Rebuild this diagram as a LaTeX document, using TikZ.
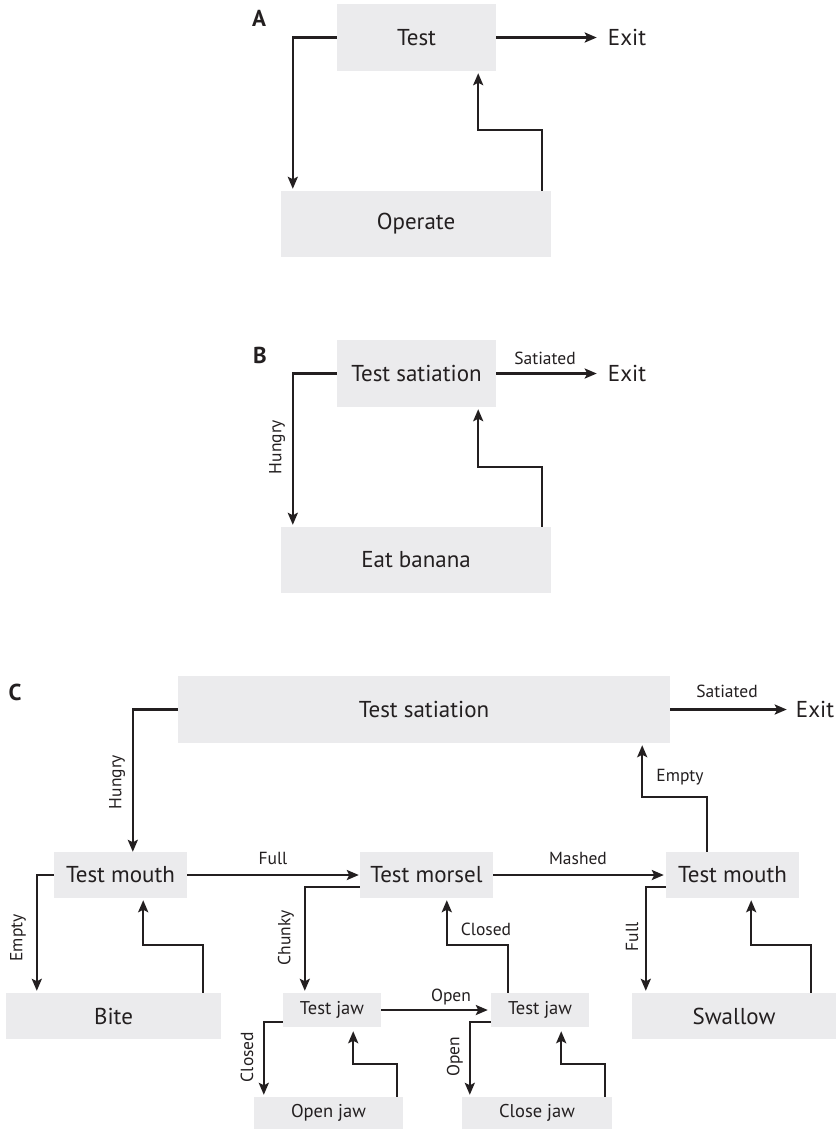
\documentclass[tikz,border=0pt]{standalone}
\usepackage{fontspec}
\setmainfont{PT Sans}
\usetikzlibrary{arrows.meta}
\definecolor{boxgray}{RGB}{235,235,237}
\definecolor{ink}{RGB}{35,31,32}
\begin{document}
\begin{tikzpicture}[x=1pt,y=-1pt,
  box/.style={fill=boxgray, inner sep=0pt, text=ink, font=\fontsize{23}{25}\selectfont},
  jawbox/.style={box, font=\fontsize{18.5}{20}\selectfont},
  lbl/.style={inner sep=0pt, text=ink, font=\fontsize{17.5}{19}\selectfont},
  plain/.style={inner sep=0pt, text=ink, font=\fontsize{23}{25}\selectfont},
  panel/.style={inner sep=0pt, text=ink, font=\fontsize{23}{25}\selectfont\bfseries},
  arr/.style={draw=ink, line width=2.4pt, -{Stealth[length=12pt,width=10pt,inset=2.5pt]}, shorten >=2pt},
  ]
\useasboundingbox[fill=white] (0,0) rectangle (840,1130);

% ---------- Panel A ----------
\node[panel] (pA) at (259,18) {A};
\node[box, minimum width=159pt, minimum height=67pt] (testA) at (416.5,37.5) {Test};
\node[box, minimum width=270pt, minimum height=66pt] (opA) at (416,224) {Operate};
\node[plain] (exitA) at (627,37.5) {Exit};
\draw[arr, shorten >=11pt] (testA.east) -- (testA.east -| exitA.west);
\draw[arr] (testA.west) -| ([xshift=12pt]opA.north west);
\draw[arr] ([xshift=-9pt]opA.north east) -- ++(0,-61) -| ([xshift=-18pt]testA.south east);

% ---------- Panel B ----------
\node[panel] (pB) at (260,355) {B};
\node[box, minimum width=159pt, minimum height=67pt] (testB) at (416.5,373.5) {Test satiation};
\node[box, minimum width=270pt, minimum height=66pt] (eatB) at (416,560) {Eat banana};
\node[plain] (exitB) at (627,373.5) {Exit};
\node[lbl] (satB) at (545,358) {Satiated};
\node[lbl, rotate=90] (hungB) at (277,447) {Hungry};
\draw[arr, shorten >=11pt] (testB.east) -- (testB.east -| exitB.west);
\draw[arr] (testB.west) -| ([xshift=12pt]eatB.north west);
\draw[arr] ([xshift=-9pt]eatB.north east) -- ++(0,-60) -| ([xshift=-18pt]testB.south east);

% ---------- Panel C ----------
\node[panel] (pC) at (15,692) {C};
\node[box, minimum width=492pt, minimum height=67pt] (satC) at (424,709.5) {Test satiation};
\node[plain] (exitC) at (815,709.5) {Exit};
\node[lbl] (satlC) at (727,691) {Satiated};
\draw[arr, shorten >=9pt] (satC.east) -- (satC.east -| exitC.west);

\node[box, minimum width=133pt, minimum height=46pt] (mouthL) at (120.5,875) {Test mouth};
\node[box, minimum width=133pt, minimum height=46pt] (morsel) at (426.5,875) {Test morsel};
\node[box, minimum width=133pt, minimum height=46pt] (mouthR) at (732.5,875) {Test mouth};
\node[box, minimum width=215pt, minimum height=46pt] (bite) at (113.5,1016) {Bite};
\node[box, minimum width=204pt, minimum height=46pt] (swallow) at (734,1016) {Swallow};
\node[jawbox, minimum width=98pt, minimum height=34pt] (jawL) at (332,1010) {Test jaw};
\node[jawbox, minimum width=98pt, minimum height=34pt] (jawR) at (540,1010) {Test jaw};
\node[jawbox, minimum width=149pt, minimum height=32pt] (openjaw) at (328.5,1113) {Open jaw};
\node[jawbox, minimum width=150pt, minimum height=32pt] (closejaw) at (537,1113) {Close jaw};

% labels
\node[lbl, rotate=90] (hungC) at (117,782) {Hungry};
\node[lbl] (emptyU) at (680,777) {Empty};
\node[lbl] (fullH) at (273,858) {Full};
\node[lbl] (mashed) at (578,858) {Mashed};
\node[lbl, rotate=90] (emptyL) at (18,938) {Empty};
\node[lbl, rotate=90] (chunky) at (286,938) {Chunky};
\node[lbl] (closedU) at (486,929) {Closed};
\node[lbl, rotate=90] (fullV) at (632,937) {Full};
\node[lbl] (openH) at (451,997) {Open};
\node[lbl, rotate=90] (closedV) at (247,1057) {Closed};
\node[lbl, rotate=90] (openV) at (455,1057) {Open};

% connectors
\draw[arr, shorten >=0pt] (satC.west) -| ([xshift=79pt]mouthL.north west);
\draw[arr] ([xshift=41pt]mouthR.north west) -- ++(0,-55) -| ([xshift=-28pt]satC.south east);
\draw[arr, shorten >=1pt] (mouthL.east) -- (morsel.west);
\draw[arr] (morsel.east) -- (mouthR.west);
\draw[arr] (mouthL.west) -| ([xshift=31pt]bite.north west);
\draw[arr] ([xshift=-18pt]bite.north east) -- ++(0,-48) -| ([xshift=-44pt]mouthL.south east);
\draw[arr] ([yshift=-12pt]morsel.west) -| ([xshift=22pt]jawL.north west);
\draw[arr, shorten >=3pt] (jawL.east) -- (jawR.west);
\draw[arr] ([xshift=17pt]jawR.north west) -- ++(0,-48) -| ([xshift=87pt]morsel.south west);
\draw[arr] ([yshift=-12pt]jawL.west) -| ([xshift=10pt]openjaw.north west);
\draw[arr, shorten >=4pt] ([xshift=-6pt]openjaw.north east) -- ++(0,-33) -| ([xshift=-28pt]jawL.south east);
\draw[arr] ([yshift=-12pt]jawR.west) -| ([xshift=8pt]closejaw.north west);
\draw[arr, shorten >=4pt] ([xshift=-7pt]closejaw.north east) -- ++(0,-33) -| ([xshift=-28pt]jawR.south east);
\draw[arr] ([yshift=-12pt]mouthR.west) -| ([xshift=14pt]swallow.north west);
\draw[arr] ([xshift=-25pt]swallow.north east) -- ++(0,-48) -| ([xshift=-48pt]mouthR.south east);
\end{tikzpicture}
\end{document}
